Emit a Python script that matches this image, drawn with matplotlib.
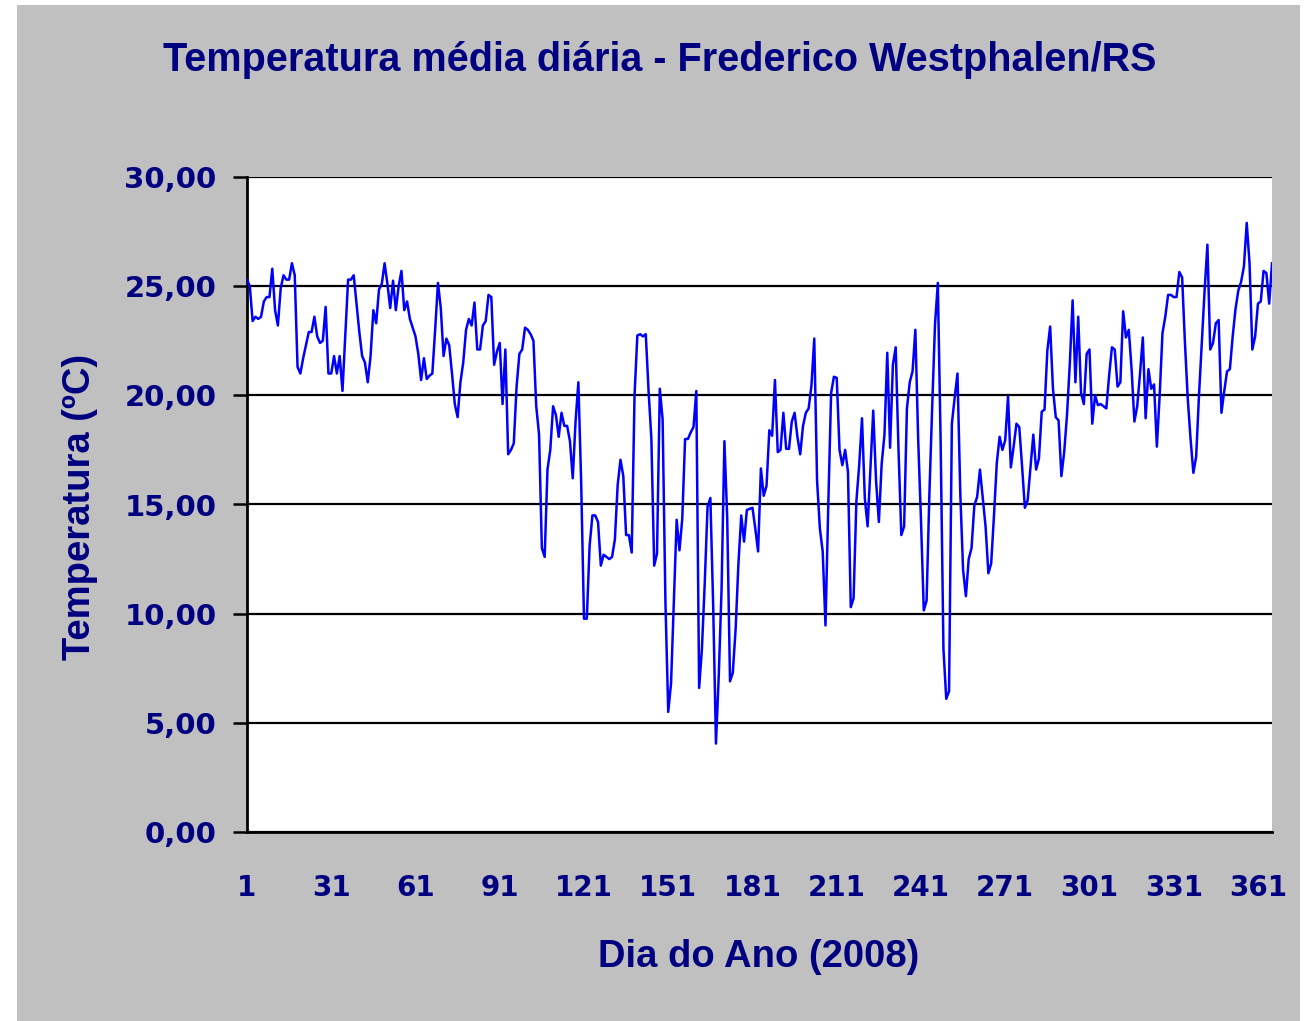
import numpy as np
import matplotlib
matplotlib.use("Agg")
import matplotlib.pyplot as plt
from matplotlib.patches import Rectangle

# DAILY MEAN TEMPERATURE (ºC), DAY 1..366 OF 2008
temp = [
    25.3, 25.0, 23.4, 23.6, 23.5, 23.6, 24.3, 24.5, 24.5, 25.8,
    23.9, 23.2, 24.9, 25.5, 25.3, 25.3, 26.05, 25.5, 21.3, 21.0,
    21.7, 22.3, 22.9, 22.9, 23.6, 22.7, 22.4, 22.5, 24.05, 21.0,
    21.0, 21.8, 21.0, 21.8, 20.2, 22.8, 25.3, 25.3, 25.5, 24.2,
    22.9, 21.8, 21.5, 20.6, 21.8, 23.9, 23.3, 24.85, 25.1, 26.05,
    25.1, 24.0, 25.25, 23.9, 25.0, 25.7, 23.9, 24.3, 23.5, 23.1,
    22.7, 21.9, 20.7, 21.7, 20.75, 20.9, 21.0, 23.0, 25.15, 24.0,
    21.8, 22.6, 22.3, 21.0, 19.6, 19.0, 20.6, 21.5, 23.0, 23.5,
    23.2, 24.25, 22.1, 22.1, 23.2, 23.4, 24.6, 24.5, 21.4, 22.0,
    22.4, 19.6, 22.1, 17.3, 17.5, 17.8, 20.4, 21.9, 22.1, 23.1,
    23.0, 22.8, 22.5, 19.5, 18.2, 13.0, 12.6, 16.6, 17.5, 19.5,
    19.1, 18.1, 19.2, 18.6, 18.6, 17.9, 16.2, 18.8, 20.6, 16.0,
    9.77, 9.77, 13.1, 14.5, 14.5, 14.2, 12.2, 12.7, 12.6, 12.5,
    12.6, 13.4, 15.9, 17.05, 16.3, 13.6, 13.6, 12.8, 20.0, 22.74,
    22.8, 22.7, 22.8, 20.2, 18.0, 12.2, 12.75, 20.3, 18.9, 10.55,
    5.5, 6.8, 10.55, 14.3, 12.9, 14.35, 18.0, 18.0, 18.3, 18.55,
    20.2, 6.6, 8.4, 11.4, 14.9, 15.3, 10.4, 4.05, 7.2, 11.15,
    17.9, 14.4, 6.9, 7.3, 9.3, 12.3, 14.5, 13.3, 14.75, 14.8,
    14.85, 13.9, 12.85, 16.65, 15.4, 15.85, 18.4, 18.15, 20.7, 17.4,
    17.5, 19.2, 17.55, 17.55, 18.8, 19.2, 18.1, 17.3, 18.6, 19.2,
    19.4, 20.45, 22.6, 16.1, 13.9, 12.85, 9.46, 15.0, 20.1, 20.85,
    20.8, 17.5, 16.8, 17.5, 16.5, 10.3, 10.7, 15.15, 16.8, 18.95,
    15.3, 14.0, 16.7, 19.3, 16.1, 14.2, 16.85, 18.2, 21.95, 17.6,
    21.4, 22.2, 17.5, 13.6, 14.0, 19.4, 20.6, 21.1, 23.0, 18.0,
    14.3, 10.15, 10.6, 15.5, 19.5, 23.25, 25.15, 17.9, 8.4, 6.1,
    6.45, 18.7, 19.9, 21.0, 15.5, 12.0, 10.8, 12.5, 13.0, 14.95,
    15.35, 16.6, 15.3, 14.0, 11.85, 12.3, 14.5, 16.9, 18.1, 17.5,
    17.95, 19.95, 16.7, 17.65, 18.7, 18.55, 16.75, 14.85, 15.2, 16.7,
    18.2, 16.6, 17.1, 19.25, 19.35, 22.05, 23.15, 20.3, 19.0, 18.85,
    16.3, 17.4, 19.1, 21.45, 24.35, 20.6, 23.6, 20.1, 19.6, 21.9,
    22.1, 18.7, 20.0, 19.55, 19.6, 19.5, 19.4, 20.9, 22.2, 22.1,
    20.4, 20.6, 23.85, 22.65, 23.0, 21.2, 18.8, 19.5, 21.0, 22.65,
    18.95, 21.2, 20.3, 20.5, 17.65, 20.0, 22.85, 23.6, 24.6, 24.6,
    24.5, 24.5, 25.65, 25.4, 22.4, 19.85, 18.0, 16.45, 17.2, 20.0,
    22.4, 24.8, 26.9, 22.1, 22.4, 23.3, 23.45, 19.2, 20.2, 21.1,
    21.2, 22.7, 23.95, 24.8, 25.2, 25.9, 27.9, 26.05, 22.1, 22.7,
    24.2, 24.3, 25.7, 25.6, 24.2, 26.05,
]
days = np.arange(1, len(temp) + 1)

x_ticks = list(range(1, 362, 30))
y_ticks = [0, 5, 10, 15, 20, 25, 30]
y_tick_labels = ["%d,00" % v for v in y_ticks]

title = "Temperatura média diária - Frederico Westphalen/RS"
x_label = "Dia do Ano (2008)"
y_label = "Temperatura (ºC)"

NAVY = "#000080"
W, H = 1312, 1021

fig = plt.figure(figsize=(W / 100, H / 100), dpi=100, facecolor="white")

# grey chart area (behind the axes)
fig.patches.append(Rectangle((17 / W, 1 - 1021 / H), (1300 - 17) / W, (1021 - 5) / H,
                             transform=fig.transFigure, facecolor="#C0C0C0",
                             edgecolor="none", zorder=-10))

ax = fig.add_axes([247 / W, 1 - 832 / H, (1272 - 247) / W, (832 - 177) / H])
ax.set_zorder(5)
ax.set_facecolor("white")
ax.plot(days, temp, color="#0000FF", lw=1.8, zorder=3)

ax.set_xlim(1, 366)
ax.set_ylim(0, 30)
ax.set_yticks(y_ticks)
ax.set_yticklabels(y_tick_labels)
ax.set_xticks(x_ticks)
ax.set_xticklabels([str(t) for t in x_ticks])

ax.yaxis.grid(True, color="black", lw=1.6)
ax.set_axisbelow(True)
for s in ["top", "right"]:
    ax.spines[s].set_visible(False)
for s in ["left", "bottom"]:
    ax.spines[s].set_linewidth(2.0)
    ax.spines[s].set_color("black")

ax.tick_params(axis="y", direction="out", length=10, width=1.8, pad=12,
               labelsize=21, labelcolor=NAVY)
ax.tick_params(axis="x", length=0, pad=30, labelsize=20, labelcolor=NAVY)
for lab in ax.get_xticklabels() + ax.get_yticklabels():
    lab.set_fontweight("bold")
    lab.set_family("DejaVu Sans")

fig.text(660 / W, 1 - 60 / H, title, ha="center", va="center", fontsize=28.5,
         fontweight="bold", color=NAVY, family="Liberation Sans")
fig.text(80 / W, 1 - 507 / H, y_label, ha="center", va="center", rotation=90,
         fontsize=27.5, fontweight="bold", color=NAVY, family="Liberation Sans")
fig.text(759 / W, 1 - 957 / H, x_label, ha="center", va="center", fontsize=27.5,
         fontweight="bold", color=NAVY, family="Liberation Sans")

fig.savefig("out.png", dpi=100, facecolor=fig.get_facecolor())
